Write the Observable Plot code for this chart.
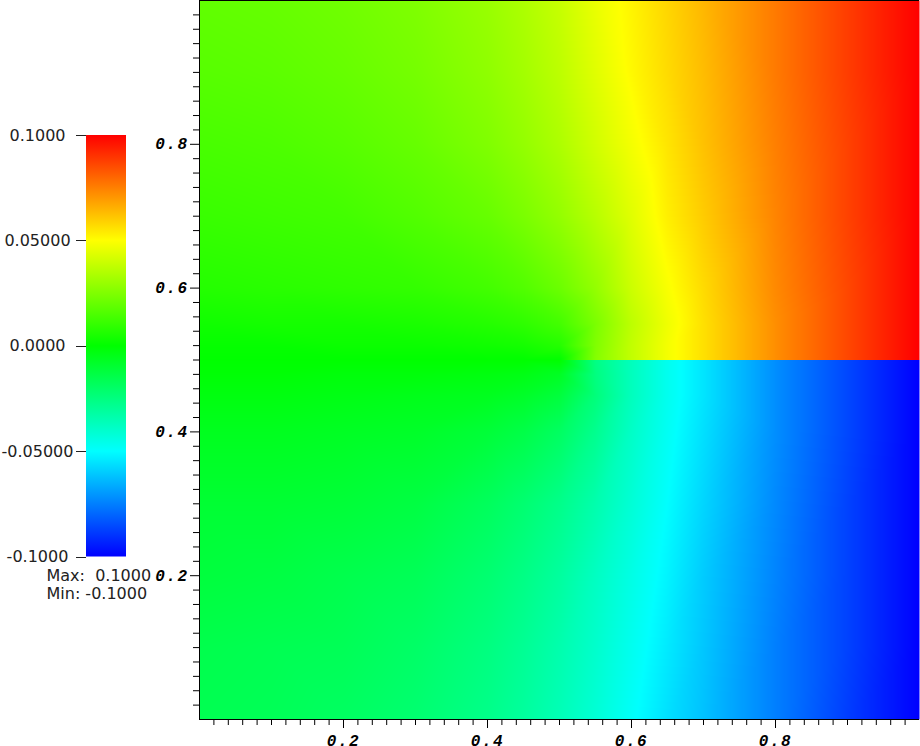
<!DOCTYPE html>
<html><head><meta charset="utf-8">
<script src="https://cdn.jsdelivr.net/npm/d3@7"></script>
<script src="https://cdn.jsdelivr.net/npm/@observablehq/plot@0.6"></script>
<style>
html,body{margin:0;padding:0;background:#fff;}
#wrap{position:relative;width:920px;height:746px;overflow:hidden;}
#wrap svg{display:block;}
#bar{position:absolute;left:0;top:0;}
</style></head><body><div id="wrap"></div>
<script>
// sample columns (x) shared by both halves
const xs = [0, 0.1, 0.2, 0.3, 0.4, 0.45, 0.5, 0.55, 0.6, 0.65, 0.7, 0.8, 0.9, 1.0];
// upper half (above the crack y = 0.5)
const upperYs = [1.0, 0.9, 0.8, 0.7, 0.6, 0.55, 0.52, 0.5];
const upperValues = [
  [0.019, 0.020, 0.022, 0.025, 0.030, 0.034, 0.039, 0.046, 0.052, 0.058, 0.064, 0.076, 0.088, 0.100],
  [0.017, 0.018, 0.020, 0.023, 0.028, 0.032, 0.037, 0.044, 0.051, 0.057, 0.063, 0.076, 0.088, 0.100],
  [0.014, 0.015, 0.017, 0.020, 0.025, 0.029, 0.034, 0.041, 0.048, 0.055, 0.062, 0.075, 0.087, 0.100],
  [0.011, 0.012, 0.013, 0.016, 0.020, 0.024, 0.029, 0.036, 0.044, 0.053, 0.060, 0.074, 0.087, 0.100],
  [0.007, 0.008, 0.009, 0.010, 0.013, 0.016, 0.021, 0.029, 0.040, 0.049, 0.057, 0.073, 0.086, 0.100],
  [0.003, 0.004, 0.004, 0.005, 0.007, 0.009, 0.013, 0.024, 0.037, 0.047, 0.056, 0.072, 0.086, 0.100],
  [0.001, 0.001, 0.002, 0.002, 0.003, 0.004, 0.007, 0.025, 0.038, 0.048, 0.056, 0.072, 0.086, 0.100],
  [0.000, 0.000, 0.000, 0.000, 0.000, 0.000, 0.000, 0.026, 0.038, 0.048, 0.056, 0.072, 0.086, 0.100]
];
// lower half (below the crack)
const lowerYs = [0.5, 0.48, 0.45, 0.4, 0.3, 0.2, 0.1, 0.0];
const lowerValues = [
  [0.000, 0.000, 0.000, 0.000, 0.000, 0.000, 0.000, -0.026, -0.037, -0.047, -0.055, -0.072, -0.086, -0.100],
  [-0.001, -0.001, -0.002, -0.002, -0.003, -0.004, -0.007, -0.025, -0.037, -0.047, -0.055, -0.072, -0.086, -0.100],
  [-0.003, -0.003, -0.004, -0.005, -0.006, -0.008, -0.012, -0.024, -0.037, -0.047, -0.055, -0.072, -0.086, -0.100],
  [-0.006, -0.006, -0.007, -0.008, -0.011, -0.014, -0.019, -0.028, -0.039, -0.048, -0.056, -0.072, -0.086, -0.100],
  [-0.010, -0.010, -0.011, -0.013, -0.018, -0.022, -0.027, -0.034, -0.042, -0.050, -0.058, -0.073, -0.087, -0.100],
  [-0.012, -0.013, -0.015, -0.017, -0.022, -0.026, -0.031, -0.038, -0.045, -0.052, -0.060, -0.074, -0.087, -0.100],
  [-0.015, -0.016, -0.017, -0.020, -0.025, -0.029, -0.034, -0.040, -0.047, -0.054, -0.061, -0.075, -0.087, -0.100],
  [-0.016, -0.017, -0.019, -0.022, -0.027, -0.031, -0.036, -0.042, -0.049, -0.056, -0.062, -0.075, -0.088, -0.100]
];
// colour map (rainbow)
const colorStops = [-0.1, -0.05, 0, 0.05, 0.1];
const colorRange = ["#0000ff", "#00ffff", "#00ff00", "#ffff00", "#ff0000"];
// axis ticks
const xMajorTicks = [0.2, 0.4, 0.6, 0.8];
const xTickLabels = ["0.2", "0.4", "0.6", "0.8"];
const yMajorTicks = [0.2, 0.4, 0.6, 0.8];
const yTickLabels = ["0.2", "0.4", "0.6", "0.8"];
const minorTicks = d3.range(1, 50).map(i => i / 50).filter(t => !xMajorTicks.some(m => Math.abs(m - t) < 1e-9));
// colour bar ticks
const barTicks = [0.1, 0.05, 0, -0.05, -0.1];
const barTickLabels = ["0.1000", "0.05000", "0.0000", "-0.05000", "-0.1000"];
const rangeLabels = ["Max:  0.1000", "Min: -0.1000"];

function toPoints(ys, vals) {
  const pts = [];
  ys.forEach((y, i) => xs.forEach((x, j) => pts.push({x, y, v: vals[i][j]})));
  return pts;
}
const upperPts = toPoints(upperYs, upperValues);
const lowerPts = toPoints(lowerYs, lowerValues);

const tickFont = {fontFamily: "Liberation Mono", fontWeight: "bold", fontStyle: "italic", fontSize: 16};

const chart = Plot.plot({
  width: 920, height: 746,
  marginLeft: 199, marginRight: 1, marginTop: 0, marginBottom: 27,
  x: {domain: [0, 1], label: null},
  y: {domain: [0, 1], label: null},
  color: {type: "linear", domain: colorStops, range: colorRange, interpolate: "rgb", clamp: true},
  style: {background: "white", color: "black"},
  marks: [
    Plot.raster(upperPts, {x: "x", y: "y", fill: "v", x1: 0, x2: 1, y1: 0.5, y2: 1, interpolate: "barycentric", pixelSize: 1}),
    Plot.raster(lowerPts, {x: "x", y: "y", fill: "v", x1: 0, x2: 1, y1: 0, y2: 0.5, interpolate: "barycentric", pixelSize: 1}),
    Plot.ruleX([0], {stroke: "black"}),
    Plot.ruleY([0, 1], {stroke: "black"}),
    Plot.axisX(minorTicks, {anchor: "bottom", tickSize: 6, tickFormat: () => "", stroke: "black", label: null}),
    Plot.axisX(xMajorTicks, {anchor: "bottom", tickSize: 9, tickPadding: 6, stroke: "black", fill: "black", label: null,
      tickFormat: d => xTickLabels[xMajorTicks.indexOf(d)], ...tickFont}),
    Plot.axisY(minorTicks, {anchor: "left", tickSize: 6, tickFormat: () => "", stroke: "black", label: null}),
    Plot.axisY(yMajorTicks, {anchor: "left", tickSize: 9, tickPadding: 2, stroke: "black", fill: "black", label: null,
      tickFormat: d => yTickLabels[yMajorTicks.indexOf(d)], ...tickFont})
  ]
});
d3.select(chart).selectAll("text").style("letter-spacing", "1.5px");
document.getElementById("wrap").appendChild(chart);

// colour bar overlay
const barTop = 135, barBottom = 556.5, barX = 86, barW = 40;
const by = d3.scaleLinear().domain([-0.1, 0.1]).range([barBottom, barTop]);
const svg = d3.select("#wrap").append("svg").attr("id", "bar")
  .attr("width", 199).attr("height", 746);
const grad = svg.append("defs").append("linearGradient").attr("id", "rainbow")
  .attr("x1", 0).attr("y1", 1).attr("x2", 0).attr("y2", 0);
colorStops.forEach((s, i) => grad.append("stop")
  .attr("offset", (s + 0.1) / 0.2).attr("stop-color", colorRange[i]));
svg.append("rect").attr("x", barX).attr("y", barTop).attr("width", barW)
  .attr("height", barBottom - barTop).attr("fill", "url(#rainbow)");
barTicks.forEach((t, i) => {
  const y = Math.round(by(t)) + 0.5;
  svg.append("line").attr("x1", barX - 10).attr("x2", barX).attr("y1", y).attr("y2", y)
    .attr("stroke", "#222").attr("stroke-width", 1);
  svg.append("text").attr("x", 37.5).attr("y", by(t)).attr("dy", "0.35em")
    .attr("text-anchor", "middle").attr("font-family", "DejaVu Sans").attr("font-size", 16)
    .attr("fill", "#222").text(barTickLabels[i]);
});
rangeLabels.forEach((s, i) => {
  svg.append("text").attr("x", 46.5).attr("y", 575 + i * 18).attr("dy", "0.35em")
    .attr("font-family", "DejaVu Sans").attr("font-size", 16).attr("fill", "#222")
    .style("white-space", "pre").text(s);
});
</script></body></html>
